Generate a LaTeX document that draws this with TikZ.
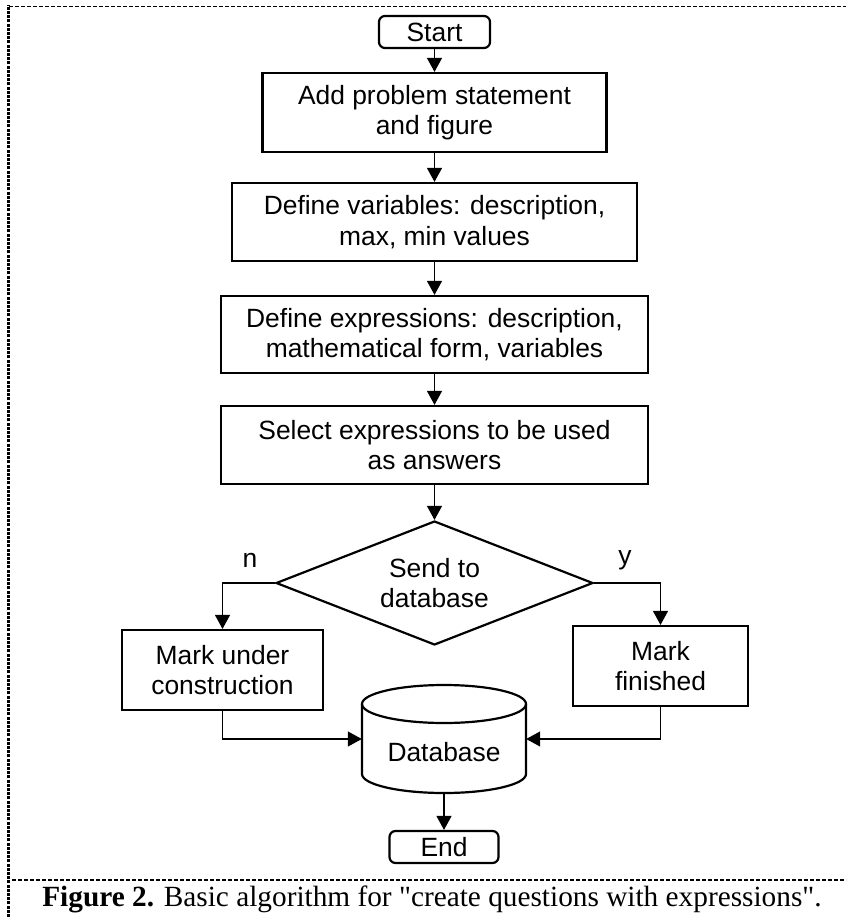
\documentclass[tikz,border=0pt]{standalone}
\usepackage{fontspec}
\setmainfont{Liberation Sans}
\newfontfamily\capfont{Liberation Serif}
\usetikzlibrary{shapes.geometric,arrows.meta}
\begin{document}
\begin{tikzpicture}[x=1pt,y=-1pt,
  every node/.style={font=\fontsize{26.4}{30.5}\selectfont},
  procbox/.style={draw, line width=2.2pt, rectangle, inner sep=0pt, align=center},
  termbox/.style={draw, line width=2.2pt, rounded corners=6pt, inner sep=0pt},
  decbox/.style={draw, line width=2.2pt, diamond, aspect=2.556, inner sep=0pt, align=center},
  flow/.style={line width=1.2pt, -{Triangle[length=14pt,width=15pt]}},
  cyl/.style={line width=2.2pt},
  border/.style={line width=1.5pt, dash pattern=on 4pt off 2pt},
  sideborder/.style={line width=3pt, dash pattern=on 3pt off 1.2pt}]
\useasboundingbox (0,0) rectangle (846,917);

% frame
\draw[border] (9,6.5) -- (846,6.5);
\draw[sideborder] (8,917) -- (8,5);
\draw[border] (12,880) -- (846,880);

% nodes
\node[termbox, minimum width=111pt, minimum height=32pt] (start) at (434.5,32) {Start};
\node[procbox, minimum width=344pt, minimum height=79pt] (b1) at (434.5,112.5) {Add problem statement\\and figure};
\node[procbox, minimum width=405pt, minimum height=78pt] (b2) at (434.5,222) {Define variables: description,\\max, min values};
\node[procbox, minimum width=427pt, minimum height=77pt] (b3) at (434.5,334.5) {Define expressions: description,\\mathematical form, variables};
\node[procbox, minimum width=427pt, minimum height=78pt] (b4) at (434.5,445) {Select expressions to be used\\as answers};
\node[decbox, minimum width=317pt, minimum height=124pt] (dec) at (434.5,583) {Send to\\database};
\node (nlab) at (250,560) {n};
\node (ylab) at (625,560) {y};
\node[procbox, minimum width=201pt, minimum height=80pt] (lbox) at (222.5,670) {Mark under\\construction};
\node[procbox, minimum width=175pt, minimum height=80pt] (rbox) at (660.5,666) {Mark\\finished};

% database cylinder
\node[inner sep=0pt, minimum width=164pt, minimum height=108pt] (db) at (444,739) {};
\draw[cyl] (362,704) -- (362,774) arc[start angle=180, end angle=0, x radius=82, y radius=19] -- (526,704);
\draw[cyl] (444,704) ellipse [x radius=82, y radius=19];
\node (dbt) at (444,752) {Database};

\node[termbox, minimum width=109pt, minimum height=32pt] (end) at (444,847) {End};

% connectors
\draw[flow] (start) -- (b1);
\draw[flow] (b1) -- (b2);
\draw[flow] (b2) -- (b3);
\draw[flow] (b3) -- (b4);
\draw[flow] (b4) -- (dec);
\draw[flow] (dec.west) -| (lbox.north);
\draw[flow] (dec.east) -| (rbox.north);
\draw[flow] (lbox.south) |- (db.west);
\draw[flow] (rbox.south) |- (db.east);
\draw[flow] (db.south) -- (end);

% caption
\node[font=\capfont\fontsize{29.3}{34}\selectfont, anchor=base, inner sep=0pt] (cap) at (432,906) {\textbf{Figure 2.} Basic algorithm for "create questions with expressions".};
\end{tikzpicture}
\end{document}
